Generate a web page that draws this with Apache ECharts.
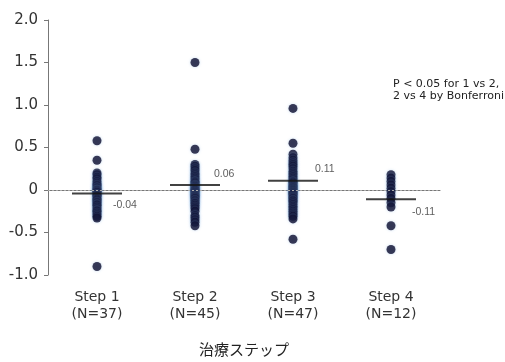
<!DOCTYPE html>
<html>
<head>
<meta charset="utf-8">
<script src="https://cdn.jsdelivr.net/npm/echarts@6/dist/echarts.min.js"></script>
<style>
  html, body { margin: 0; padding: 0; background: #fff; }
  #chart { width: 505px; height: 362px; }
</style>
</head>
<body>
<div id="chart"></div>
<script>
// Treatment steps and their group sizes
const categories = ['Step 1\n(N=37)', 'Step 2\n(N=45)', 'Step 3\n(N=47)', 'Step 4\n(N=12)'];

// Individual change values per step
const step1 = [0.58, 0.35, 0.2, 0.18, 0.15, 0.13, 0.1, 0.08, 0.06, 0.05, 0.03, 0.02, 0, 0, -0.01,
  -0.02, -0.03, -0.05, -0.06, -0.07, -0.08, -0.1, -0.11, -0.12, -0.14, -0.15, -0.17, -0.18, -0.2,
  -0.22, -0.24, -0.25, -0.27, -0.29, -0.31, -0.33, -0.9];
const step2 = [1.5, 0.48, 0.3, 0.28, 0.25, 0.23, 0.2, 0.18, 0.16, 0.14, 0.12, 0.1, 0.09, 0.08, 0.06,
  0.05, 0.04, 0.03, 0.02, 0.01, 0, 0, -0.01, -0.02, -0.03, -0.04, -0.05, -0.06, -0.07, -0.08, -0.09,
  -0.1, -0.12, -0.13, -0.15, -0.16, -0.18, -0.2, -0.22, -0.25, -0.3, -0.32, -0.35, -0.38, -0.42];
const step3 = [0.96, 0.55, 0.42, 0.38, 0.35, 0.32, 0.3, 0.28, 0.25, 0.22, 0.2, 0.18, 0.16, 0.14, 0.12,
  0.1, 0.09, 0.08, 0.06, 0.05, 0.04, 0.03, 0.02, 0.01, 0, -0.01, -0.02, -0.03, -0.04, -0.05, -0.06,
  -0.08, -0.09, -0.1, -0.12, -0.13, -0.15, -0.17, -0.19, -0.21, -0.23, -0.25, -0.27, -0.29, -0.31,
  -0.34, -0.58];
const step4 = [0.18, 0.14, 0.1, 0.06, 0.02, -0.02, -0.06, -0.1, -0.15, -0.2, -0.42, -0.7];

// Group means shown as horizontal bars
const means = [-0.04, 0.06, 0.11, -0.11];

// Y-axis range and step
const yMin = -1.0, yMax = 2.0, yStep = 0.5;

const note = 'P < 0.05 for 1 vs 2,\n2 vs 4 by Bonferroni';
const axisName = '治療ステップ';

const groups = [step1, step2, step3, step4];
const points = [];
groups.forEach((vals, i) => vals.forEach(v => points.push([i, v])));

// mean label sits just right of the bar end, above or below it
const meanLabelOffsets = [[-9, 12], [-6, -11], [-3, -12], [-4, 13]];
const meanData = means.map((m, i) => ({
  value: [i, m],
  label: { offset: meanLabelOffsets[i] }
}));

const font = '"DejaVu Sans", Verdana, sans-serif';
const smallFont = '"Liberation Sans", Arial, sans-serif';

const chart = echarts.init(document.getElementById('chart'), null, { renderer: 'canvas' });
chart.setOption({
  animation: false,
  backgroundColor: '#fff',
  grid: { left: 48, right: 65, top: 20, bottom: 83, containLabel: false },
  xAxis: {
    type: 'category',
    data: categories,
    boundaryGap: true,
    name: axisName,
    nameLocation: 'middle',
    nameGap: 67,
    nameTextStyle: { fontSize: 15, color: '#222', fontFamily: '"Noto Sans CJK JP", sans-serif' },
    axisLine: { lineStyle: { color: '#777', width: 1 } },
    axisTick: { show: true, alignWithLabel: true, inside: true, length: 3, lineStyle: { color: '#777' } },
    axisLabel: { fontSize: 14, color: '#333', fontFamily: font, lineHeight: 17, margin: 14 },
    splitLine: { show: false }
  },
  yAxis: {
    type: 'value',
    min: yMin, max: yMax, interval: yStep,
    axisLine: { show: true, lineStyle: { color: '#777', width: 1 } },
    axisTick: { show: true, length: 4, lineStyle: { color: '#777' } },
    axisLabel: {
      fontSize: 15, color: '#333', fontFamily: font, margin: 10,
      formatter: v => (v === 0 ? '0' : v.toFixed(1))
    },
    splitLine: { show: false }
  },
  series: [
    {
      type: 'scatter',
      data: points,
      symbol: 'circle',
      symbolSize: 9,
      itemStyle: { color: '#0d0d2e', shadowBlur: 3, shadowColor: 'rgba(120,170,220,0.5)' },
      z: 2,
      markLine: {
        silent: true,
        symbol: 'none',
        label: { show: false },
        lineStyle: { color: '#aaa', type: [2, 2], width: 1 },
        data: [{ yAxis: 0 }]
      }
    },
    {
      type: 'scatter',
      data: meanData,
      symbol: 'rect',
      symbolSize: [50, 2],
      itemStyle: { color: '#111' },
      z: 3,
      label: {
        show: true,
        position: 'right',
        distance: 0,
        fontSize: 10.5,
        color: '#333',
        fontFamily: smallFont,
        formatter: p => p.value[1].toFixed(2)
      }
    }
  ],
  graphic: [{
    type: 'text',
    left: 393,
    top: 78,
    style: { text: note, fontSize: 11, lineHeight: 12, fill: '#222', fontFamily: font }
  }]
});
</script>
</body>
</html>
